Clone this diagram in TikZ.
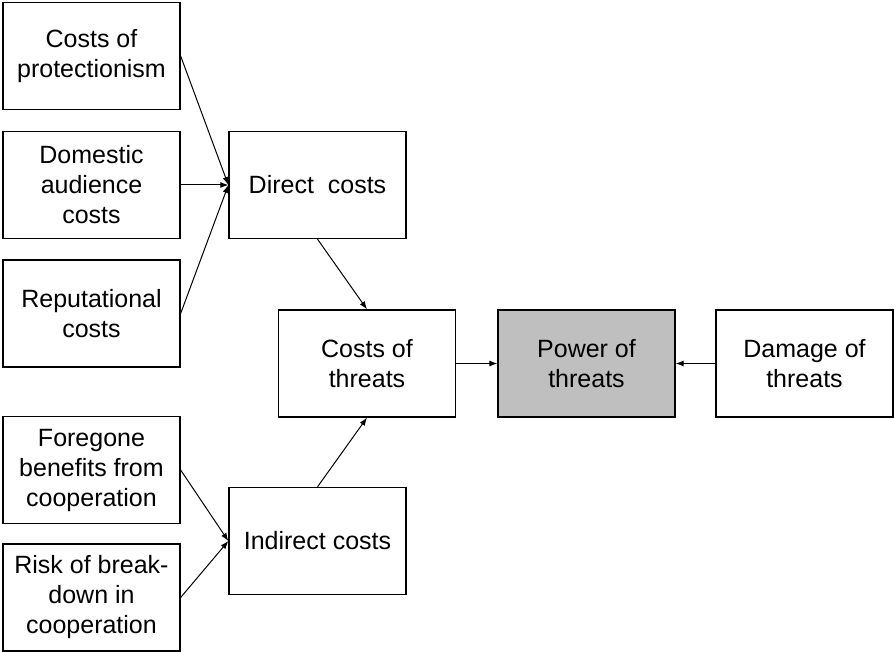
\documentclass[tikz,border=0pt]{standalone}
\usepackage{fontspec}
\setmainfont{Liberation Sans}
\usetikzlibrary{arrows.meta}
\begin{document}
\begin{tikzpicture}[x=1pt,y=-1pt,
  box/.style={draw=black, line width=1.3pt, minimum width=177pt, minimum height=107pt,
    inner sep=0pt, align=center, font=\fontsize{25}{30}\selectfont},
  keybox/.style={box, fill=gray!50!white},
  link/.style={line width=1pt, -{Latex[length=8pt,width=6pt]}}
]
\useasboundingbox (0,0) rectangle (894,652);

% left column: sources of costs
\node[box] (prot) at (91.5,56) {Costs of\\protectionism};
\node[box] (dom)  at (91.5,185) {Domestic\\audience\\costs};
\node[box] (rep)  at (91.5,313.5) {Reputational\\costs};
\node[box] (fore) at (91.5,470) {Foregone\\benefits from\\cooperation};
\node[box] (risk) at (91.5,597.5) {Risk of break-\\down in\\cooperation};

% middle: aggregated costs
\node[box] (direct)   at (317.5,185) {Direct~~costs};
\node[box] (indirect) at (317.5,541) {Indirect costs};
\node[box] (costs)    at (367,363.5) {Costs of\\threats};

% right: power and damage
\node[keybox] (power)  at (586.5,363.5) {Power of\\threats};
\node[box]    (damage) at (804.5,363.5) {Damage of\\threats};

% connectors
\draw[link] (prot.east) -- (direct.west);
\draw[link] (dom.east)  -- (direct.west);
\draw[link] (rep.east)  -- (direct.west);
\draw[link] (fore.east) -- (indirect.west);
\draw[link] (risk.east) -- (indirect.west);
\draw[link] (direct.south)   -- (costs.north);
\draw[link] (indirect.north) -- (costs.south);
\draw[link] (costs.east)  -- (power.west);
\draw[link] (damage.west) -- (power.east);
\end{tikzpicture}
\end{document}
